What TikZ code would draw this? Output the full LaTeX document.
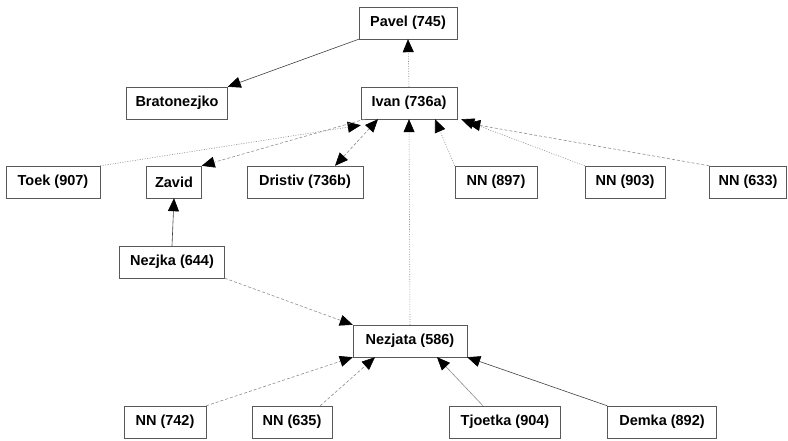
\documentclass[tikz,border=0pt]{standalone}
\usepackage{fontspec}
\setmainfont{Liberation Sans}
\usetikzlibrary{arrows.meta}
\tikzset{person/.style={draw=black!65, fill=white, font=\fontsize{14.5}{17}\selectfont\bfseries, minimum height=32pt, inner sep=0pt},
  tip/.style={-{Triangle[length=13pt, width=11pt, color=black]}},
  solidlink/.style={tip, draw=black!75, line width=0.6pt},
  greylink/.style={tip, draw=black!45, line width=0.6pt},
  dotlink/.style={tip, draw=black!45, line width=0.6pt, dash pattern=on 1pt off 1.5pt},
  dashlink/.style={tip, draw=black!45, line width=0.6pt, dash pattern=on 3pt off 2pt}}

\begin{document}
\begin{tikzpicture}[x=1pt, y=-1pt]
  \useasboundingbox (0,0) rectangle (788,441);
  % top of the tree
  \node[person, minimum width=98pt] (pavel) at (408,23) {Pavel (745)};
  \node[person, minimum width=101pt] (braton) at (177,103) {Bratonezjko};
  \node[person, minimum width=96pt] (ivan) at (409,103) {Ivan (736a)};
  % middle row
  \node[person, minimum width=94pt] (toek) at (53,182) {Toek (907)};
  \node[person, minimum width=55pt] (zavid) at (174,182) {Zavid};
  \node[person, minimum width=116pt] (dristiv) at (305,182) {Dristiv (736b)};
  \node[person, minimum width=82pt] (nn897) at (496,182) {NN (897)};
  \node[person, minimum width=80pt] (nn903) at (625,182) {NN (903)};
  \node[person, minimum width=77pt] (nn633) at (748,182) {NN (633)};
  \node[person, minimum width=105pt] (nezjka) at (172,262) {Nezjka (644)};
  \node[person, minimum width=114pt] (nezjata) at (410,341) {Nezjata (586)};
  % bottom row
  \node[person, minimum width=82pt] (nn742) at (165,422) {NN (742)};
  \node[person, minimum width=80pt] (nn635) at (292,422) {NN (635)};
  \node[person, minimum width=111pt] (tjoetka) at (505,422) {Tjoetka (904)};
  \node[person, minimum width=109pt] (demka) at (662,422) {Demka (892)};

  \draw[solidlink] (pavel.south west) -- (braton.north east);
  \draw[dotlink] (ivan.north) -- (pavel.south);
  \draw[dotlink] (toek.north east) -- ([yshift=-6pt]ivan.south west);
  \draw[dashlink] ([xshift=4pt]ivan.south west) -- (zavid.north east);
  \draw[dashlink, {Triangle[length=13pt, width=11pt, color=black]}-{Triangle[length=13pt, width=11pt, color=black]}] ([xshift=30pt]dristiv.north) -- ([xshift=-31pt]ivan.south);
  \draw[dotlink] (nezjata.north) -- (ivan.south);
  \draw[dotlink] (nn897.north west) -- ([xshift=26pt]ivan.south);
  \draw[dotlink] (nn903.north west) -- ([xshift=4pt]ivan.south east);
  \draw[dashlink] (nn633.north west) -- ([xshift=10pt, yshift=-4pt]ivan.south east);
  \draw[solidlink] (nezjka.north) -- (zavid.south);
  \draw[dashlink] (nezjka.south east) -- (nezjata.north west);
  \draw[dashlink] (nn742.north east) -- (nezjata.south west);
  \draw[dashlink] ([xshift=-12pt]nn635.north east) -- ([xshift=-35pt]nezjata.south);
  \draw[greylink] ([xshift=-22pt]tjoetka.north) -- ([xshift=27pt]nezjata.south);
  \draw[solidlink] (demka.north west) -- (nezjata.south east);
\end{tikzpicture}
\end{document}
